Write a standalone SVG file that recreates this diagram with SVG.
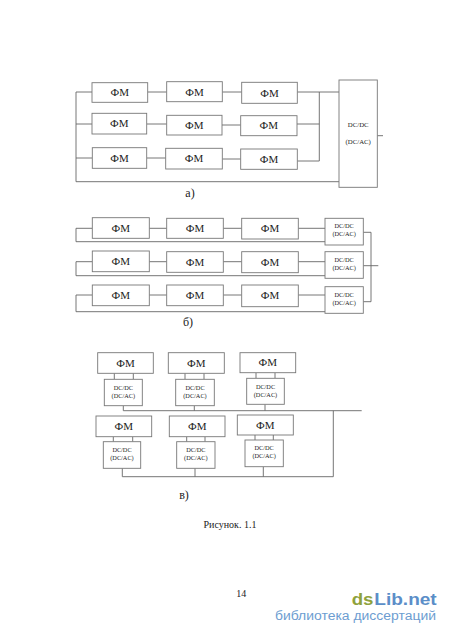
<svg xmlns="http://www.w3.org/2000/svg" width="450" height="637" viewBox="0 0 450 637">
<style>
.b{fill:#fff;stroke:#777;stroke-width:0.9}
.c{fill:none;stroke:#666;stroke-width:0.9}
.t{font-family:"Liberation Serif","Times New Roman",serif;fill:#222;text-anchor:middle}
.fm{font-size:11px}
.dc{font-size:6.3px}
.dca{font-size:6.8px}
.cap{font-size:12px}
.wm{font-family:"Liberation Sans",Arial,sans-serif}
</style>
<rect width="450" height="637" fill="#fff"/>
<!-- Section a -->
<g id="connectors-a">
<path class="c" d="M92,92 H76 V181.7 H339"/>
<path class="c" d="M76,124 H92 M76,158 H92"/>
<path class="c" d="M147.5,92 H166.7 M147,124 H166.7 M147,158 H165.7"/>
<path class="c" d="M222.3,92 H241.7 M222,125 H240.7 M222.3,159 H240.7"/>
<path class="c" d="M297.3,92 H339 M297,124 H319.3 M297.3,161 H319.3 M319.3,92 V161"/>
<path class="c" d="M377.3,135.7 H383"/>
</g>
<g id="a-fm11"><rect class="b" x="92" y="82.7" width="55.7" height="19.6"/><text class="t fm" x="119.8" y="96.3">ФМ</text></g>
<g id="a-fm12"><rect class="b" x="166.7" y="81.7" width="55.6" height="20"/><text class="t fm" x="194.5" y="95.8">ФМ</text></g>
<g id="a-fm13"><rect class="b" x="241.7" y="82.3" width="55.6" height="21"/><text class="t fm" x="269.5" y="96.8">ФМ</text></g>
<g id="a-fm21"><rect class="b" x="92" y="113.3" width="54.7" height="20.7"/><text class="t fm" x="119.3" y="127.3">ФМ</text></g>
<g id="a-fm22"><rect class="b" x="166.7" y="115.3" width="55.3" height="19.7"/><text class="t fm" x="194.3" y="129.1">ФМ</text></g>
<g id="a-fm23"><rect class="b" x="240.7" y="115.7" width="56.3" height="20"/><text class="t fm" x="268.8" y="129.3">ФМ</text></g>
<g id="a-fm31"><rect class="b" x="92.3" y="147.7" width="54.4" height="20.6"/><text class="t fm" x="119.5" y="161.8">ФМ</text></g>
<g id="a-fm32"><rect class="b" x="165.7" y="148.3" width="56.6" height="20.7"/><text class="t fm" x="194" y="162.3">ФМ</text></g>
<g id="a-fm33"><rect class="b" x="240.7" y="149" width="56.6" height="20.3"/><text class="t fm" x="269" y="163.3">ФМ</text></g>
<g id="a-dc"><rect class="b" x="339" y="80" width="38.3" height="107.3"/><text class="t dca" x="358.2" y="127.3">DC/DC</text><text class="t dca" x="358.2" y="143.8">(DC/AC)</text></g>
<text class="t cap" x="190" y="197">а)</text>

<!-- Section b -->
<g id="connectors-b">
<path class="c" d="M92.3,228.3 H76 V241.7 H325"/>
<path class="c" d="M92.3,261.7 H76 V275.7 H325"/>
<path class="c" d="M92.3,295 H76 V311.7 H325"/>
<path class="c" d="M149.3,228.3 H166.7 M149.3,261.7 H166.7 M149.3,295 H166.7"/>
<path class="c" d="M223.3,228.3 H241.7 M223.3,261.7 H241.7 M223.3,295 H241.7"/>
<path class="c" d="M298.3,228.3 H325 M298.3,261.7 H325 M298.3,295 H325"/>
<path class="c" d="M363.3,232.3 H371 V301.7 H363.3 M363.3,265.7 H378.3"/>
</g>
<g id="b-fm11"><rect class="b" x="92.3" y="217.7" width="57" height="20.6"/><text class="t fm" x="120.8" y="231.8">ФМ</text></g>
<g id="b-fm12"><rect class="b" x="166.7" y="218.3" width="56.6" height="20"/><text class="t fm" x="195" y="232.3">ФМ</text></g>
<g id="b-fm13"><rect class="b" x="241.7" y="218.3" width="56.6" height="20.7"/><text class="t fm" x="270" y="232.3">ФМ</text></g>
<g id="b-dc1"><rect class="b" x="325" y="218.3" width="38.3" height="26.7"/><text class="t dc" x="344.2" y="227.5">DC/DC</text><text class="t dc" x="344.2" y="236">(DC/AC)</text></g>
<g id="b-fm21"><rect class="b" x="92.3" y="251" width="57" height="20.7"/><text class="t fm" x="120.8" y="265.3">ФМ</text></g>
<g id="b-fm22"><rect class="b" x="166.7" y="251.7" width="56.6" height="20.6"/><text class="t fm" x="195" y="265.8">ФМ</text></g>
<g id="b-fm23"><rect class="b" x="241.7" y="251.7" width="56.6" height="21"/><text class="t fm" x="270" y="265.8">ФМ</text></g>
<g id="b-dc2"><rect class="b" x="325" y="251.7" width="38.3" height="26.6"/><text class="t dc" x="344.2" y="261.5">DC/DC</text><text class="t dc" x="344.2" y="270">(DC/AC)</text></g>
<g id="b-fm31"><rect class="b" x="92.3" y="285" width="57" height="20.7"/><text class="t fm" x="120.8" y="299.3">ФМ</text></g>
<g id="b-fm32"><rect class="b" x="166.7" y="285" width="56.6" height="20.7"/><text class="t fm" x="195" y="299.3">ФМ</text></g>
<g id="b-fm33"><rect class="b" x="241.7" y="285" width="56.6" height="21.7"/><text class="t fm" x="270" y="299.3">ФМ</text></g>
<g id="b-dc3"><rect class="b" x="325" y="286.7" width="38.3" height="26.6"/><text class="t dc" x="344.2" y="296.5">DC/DC</text><text class="t dc" x="344.2" y="305">(DC/AC)</text></g>
<text class="t cap" x="188" y="326">б)</text>

<!-- Section c -->
<g id="connectors-c">
<path class="c" d="M114.3,373.3 V379.3 M133.3,373.3 V379.3 M185,373.3 V379.3 M204,373.3 V379.3 M256,372.7 V378.3 M275,372.7 V378.3"/>
<path class="c" d="M123.3,405.7 V410.7 M194.3,405.7 V410.7 M265,404.3 V410.7 M123.3,410.7 H361.7"/>
<path class="c" d="M113.3,436.7 V441.7 M132.7,436.7 V441.7 M186.7,436.7 V441.7 M205,436.7 V441.7 M255,435 V440 M273.3,435 V440"/>
<path class="c" d="M122.3,468.3 V476.7 M195,468.3 V476.7 M263.3,466.7 V476.7 M122.3,476.7 H333.3 V410.7"/>
</g>
<g id="c-fm1"><rect class="b" x="97.7" y="352.7" width="55.6" height="20.6"/><text class="t fm" x="125.5" y="366.8">ФМ</text></g>
<g id="c-fm2"><rect class="b" x="168.3" y="352.7" width="56" height="20.6"/><text class="t fm" x="196.3" y="366.8">ФМ</text></g>
<g id="c-fm3"><rect class="b" x="240" y="352.7" width="55.7" height="20"/><text class="t fm" x="267.8" y="366.3">ФМ</text></g>
<g id="c-dc1"><rect class="b" x="104.3" y="379.3" width="38" height="26.4"/><text class="t dc" x="123.3" y="389.5">DC/DC</text><text class="t dc" x="123.3" y="397.5">(DC/AC)</text></g>
<g id="c-dc2"><rect class="b" x="175.7" y="379.3" width="38.6" height="26.4"/><text class="t dc" x="195" y="389.5">DC/DC</text><text class="t dc" x="195" y="397.5">(DC/AC)</text></g>
<g id="c-dc3"><rect class="b" x="246.7" y="378.3" width="37.6" height="26"/><text class="t dc" x="265.5" y="388.5">DC/DC</text><text class="t dc" x="265.5" y="396.5">(DC/AC)</text></g>
<g id="c-fm4"><rect class="b" x="96" y="416" width="55.7" height="20.7"/><text class="t fm" x="123.8" y="430.1">ФМ</text></g>
<g id="c-fm5"><rect class="b" x="169.3" y="416" width="55.7" height="20.7"/><text class="t fm" x="197.2" y="430.1">ФМ</text></g>
<g id="c-fm6"><rect class="b" x="237.3" y="415" width="56" height="20"/><text class="t fm" x="265.3" y="428.8">ФМ</text></g>
<g id="c-dc4"><rect class="b" x="103.3" y="441.7" width="37.4" height="26.6"/><text class="t dc" x="122" y="451.5">DC/DC</text><text class="t dc" x="122" y="459.5">(DC/AC)</text></g>
<g id="c-dc5"><rect class="b" x="176.7" y="441.7" width="38.3" height="26.6"/><text class="t dc" x="195.8" y="451.5">DC/DC</text><text class="t dc" x="195.8" y="459.5">(DC/AC)</text></g>
<g id="c-dc6"><rect class="b" x="245" y="440" width="38.3" height="26.7"/><text class="t dc" x="264.2" y="450">DC/DC</text><text class="t dc" x="264.2" y="458">(DC/AC)</text></g>
<text class="t cap" x="184" y="499">в)</text>

<text class="t" font-size="10" x="230" y="527.5">Рисунок. 1.1</text>
<text class="t" font-size="10" x="241.3" y="597.3">14</text>
<text class="wm" x="351.7" y="604.5" font-size="16.5" font-weight="bold" fill="#8fa23c" textLength="21.8" lengthAdjust="spacingAndGlyphs">ds</text>
<text class="wm" x="374.3" y="604.5" font-size="16.5" font-weight="bold" fill="#5b8ec8" textLength="62.4" lengthAdjust="spacingAndGlyphs">Lib.net</text>
<text class="wm" x="275" y="620.3" font-size="12.5" fill="#6d9dd1" textLength="161" lengthAdjust="spacingAndGlyphs">библиотека диссертаций</text>
</svg>
